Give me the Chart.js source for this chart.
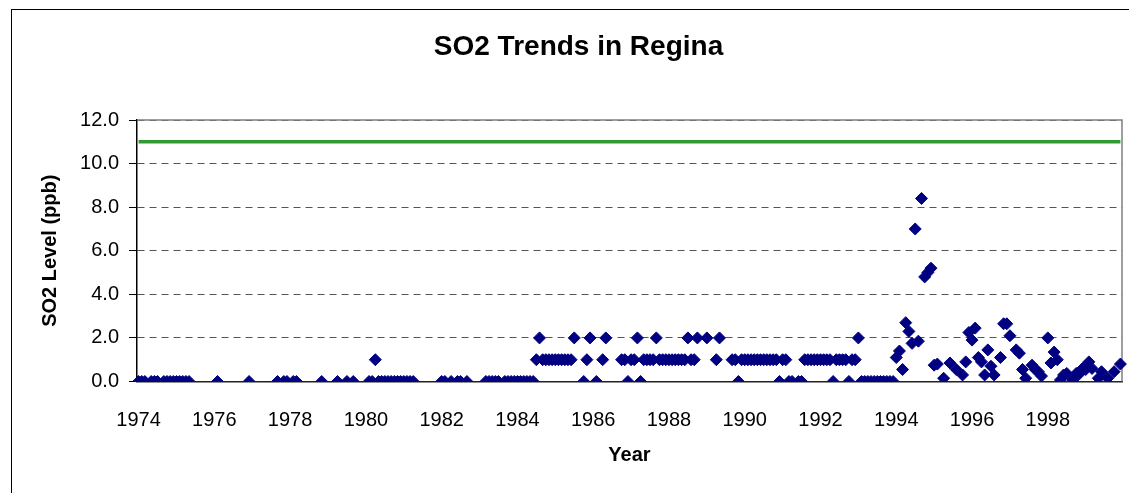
<!DOCTYPE html>
<html>
<head>
<meta charset="utf-8">
<script src="https://cdn.jsdelivr.net/npm/chart.js@4.4.0/dist/chart.umd.min.js"></script>
<style>
  html, body { margin: 0; padding: 0; background: #fff; }
  #wrap { width: 1129px; height: 493px; }
</style>
</head>
<body>
<div id="wrap"><canvas id="so2Chart" width="1129" height="493"></canvas></div>
<script>
// monthly categories, Jan 1974 .. Dec 1999
const years = [1974, 1975, 1976, 1977, 1978, 1979, 1980, 1981, 1982, 1983, 1984, 1985, 1986,
  1987, 1988, 1989, 1990, 1991, 1992, 1993, 1994, 1995, 1996, 1997, 1998, 1999];
const tickYears = [1974, 1976, 1978, 1980, 1982, 1984, 1986, 1988, 1990, 1992, 1994, 1996, 1998];
const objectiveLevel = 11.0;

// SO2 level (ppb), one row per year, Jan..Dec (null = no reading)
const so2Level = [
  0, 0, 0, null, 0, 0, 0, null, 0, 0, 0, 0,
  0, 0, 0, 0, 0, null, null, null, null, null, null, null,
  null, 0, null, null, null, null, null, null, null, null, null, 0,
  null, null, null, null, null, null, null, null, 0, null, 0, 0,
  null, 0, 0, null, null, null, null, null, null, null, 0, null,
  null, null, null, 0, null, null, 0, null, 0, null, null, null,
  null, 0, 0, 1, 0, 0, 0, 0, 0, 0, 0, 0,
  0, 0, 0, 0, null, null, null, null, null, null, null, null,
  0, 0, null, 0, null, 0, 0, null, 0, null, null, null,
  null, null, 0, 0, 0, 0, 0, null, 0, 0, 0, 0,
  0, 0, 0, 0, 0, 0, 1, 2, 1, 1, 1, 1,
  1, 1, 1, 1, 1, 1, 2, null, null, 0, 1, 2,
  null, 0, null, 1, 2, null, null, null, null, 1, 1, 0,
  1, 1, 2, 0, 1, 1, 1, 1, 2, 1, 1, 1,
  1, 1, 1, 1, 1, 1, 2, 1, 1, 2, null, null,
  2, null, null, 1, 2, null, null, null, 1, 1, 0, 1,
  1, 1, 1, 1, 1, 1, 1, 1, 1, 1, 1, 0,
  1, 1, 0, 0, null, 0, 0, 1, 1, 1, 1, 1,
  1, 1, 1, 1, 0, 1, 1, 1, 1, 0, 1, 1,
  2, 0, 0, 0, 0, 0, 0, 0, 0, 0, 0, 0,
  1.1, 1.4, 0.55, 2.7, 2.3, 1.75, 7.0, 1.85, 8.4, 4.8, 5.0, 5.2,
  0.75, 0.8, null, 0.15, null, 0.85, null, 0.55, null, 0.3, 0.9, 2.25,
  1.9, 2.45, 1.1, 0.9, 0.3, 1.45, 0.7, 0.3, null, 1.1, 2.65, 2.65,
  2.1, null, 1.45, 1.3, 0.55, 0.15, null, 0.75, 0.55, 0.45, 0.25, null,
  2.0, 0.85, 1.35, 1.0, 0.07, 0.3, 0.37, null, 0.07, 0.37, 0.35, 0.6,
  0.55, 0.9, 0.6, null, 0.15, 0.45, null, 0.15, null, 0.45, null, 0.8
];

const labels = years.flatMap((y) => Array(12).fill(String(y)));
const objective = labels.map(() => objectiveLevel);

const FONT = "'Liberation Sans', Arial, sans-serif";

// plot-area frame (top/right) and the outer chart border
const framePlugin = {
  id: "frame",
  beforeDatasetsDraw(chart) {
    const { ctx, chartArea: a } = chart;
    ctx.save();
    ctx.strokeStyle = "#808080";
    ctx.lineWidth = 1.5;
    ctx.beginPath();
    ctx.moveTo(a.left, a.top);
    ctx.lineTo(a.right, a.top);
    ctx.lineTo(a.right, a.bottom);
    ctx.stroke();
    ctx.restore();
  },
  afterDraw(chart) {
    const ctx = chart.ctx;
    ctx.save();
    ctx.strokeStyle = "#000";
    ctx.lineWidth = 1;
    ctx.strokeRect(11.5, 9.5, 1130, 500);
    ctx.restore();
  },
};

new Chart(document.getElementById("so2Chart"), {
  type: "line",
  data: {
    labels: labels,
    datasets: [
      {
        label: "Objective",
        data: objective,
        borderColor: "#339933",
        borderWidth: 3.5,
        pointRadius: 0,
        fill: false,
      },
      {
        label: "SO2 Level",
        data: so2Level,
        showLine: false,
        pointStyle: "rectRot",
        pointRadius: 6,
        pointBackgroundColor: "#000080",
        pointBorderColor: "#000080",
        pointBorderWidth: 1,
      },
    ],
  },
  options: {
    responsive: false,
    animation: false,
    events: [],
    layout: { padding: { left: 35, right: 7, top: 12, bottom: 0 } },
    plugins: {
      legend: { display: false },
      tooltip: { enabled: false },
      title: {
        display: true,
        text: "SO2 Trends in Regina",
        color: "#000",
        font: { family: FONT, size: 28, weight: "bold" },
        padding: { top: 18, bottom: 56.4 },
      },
    },
    scales: {
      x: {
        type: "category",
        offset: true,
        grid: { display: false },
        border: { display: true, color: "#222", width: 1.5 },
        ticks: {
          autoSkip: false,
          maxRotation: 0,
          padding: 19,
          color: "#000",
          font: { family: FONT, size: 20 },
          callback: function (value, index) {
            const y = Number(labels[index]);
            return index % 12 === 0 && tickYears.includes(y) ? String(y) : null;
          },
        },
        title: {
          display: true,
          text: "Year",
          color: "#000",
          font: { family: FONT, size: 20, weight: "bold" },
          padding: { top: 0, bottom: 26 },
        },
        afterFit: (scale) => { scale.height = 111.5; },
      },
      y: {
        min: 0,
        max: 12,
        grid: {
          color: "#555",
          lineWidth: 1,
          drawTicks: true,
          tickLength: 8,
          tickColor: "#000",
          tickBorderDash: [],
        },
        border: { display: true, color: "#000", width: 1.5, dash: [7, 5] },
        ticks: {
          stepSize: 2,
          padding: 10,
          color: "#000",
          font: { family: FONT, size: 20 },
          callback: (v) => Number(v).toFixed(1),
        },
        title: {
          display: true,
          text: "SO2 Level (ppb)",
          color: "#000",
          font: { family: FONT, size: 20, weight: "bold" },
          padding: { top: 3, bottom: 0 },
        },
        afterFit: (scale) => { scale.width = 102; },
      },
    },
  },
  plugins: [framePlugin],
});
</script>
</body>
</html>
